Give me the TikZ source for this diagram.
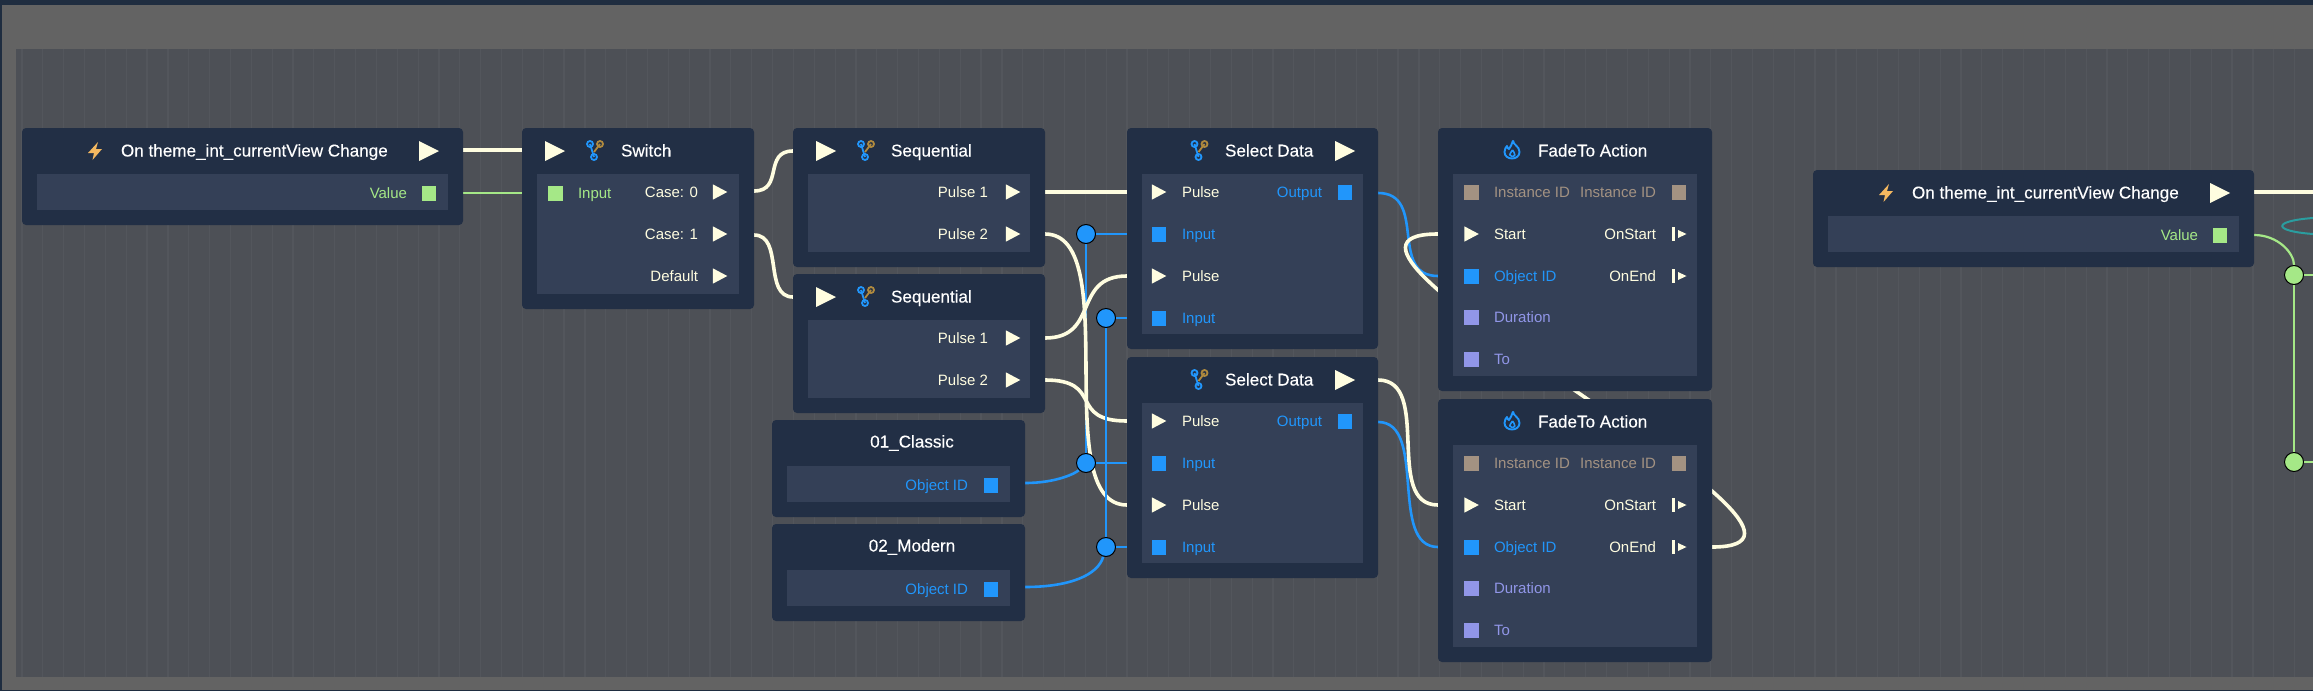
\documentclass[tikz,border=0pt]{standalone}
\usepackage{fontspec}
\setmainfont{Liberation Sans}
\newfontfamily\titlefont[FakeBold=0.25]{Liberation Sans}
\usetikzlibrary{backgrounds}

\pgfdeclarelayer{wires}
\pgfsetlayers{background,wires,main}

\definecolor{bandblue}{HTML}{1F2D40}
\definecolor{panelgray}{HTML}{636363}
\definecolor{canvasgray}{HTML}{4D5056}
\definecolor{gridgray}{HTML}{53565C}
\definecolor{nodedark}{HTML}{222F45}
\definecolor{bodyblue}{HTML}{344057}
\definecolor{flowcream}{HTML}{FFFDE0}
\definecolor{idblue}{HTML}{2196FB}
\definecolor{valgreen}{HTML}{A5E887}
\definecolor{numviolet}{HTML}{9196E8}
\definecolor{insttan}{HTML}{A39282}
\definecolor{eventorange}{HTML}{F4B860}
\definecolor{forktan}{HTML}{B08A3E}
\definecolor{loopteal}{HTML}{2A9D9F}

\tikzset{
	nodeframe/.style={fill=nodedark, rounded corners=4pt, anchor=north west, inner sep=0pt, outer sep=0pt},
	nodebody/.style={fill=bodyblue, anchor=north west, inner sep=0pt, outer sep=0pt},
	rowlabel/.style={inner sep=0pt, outer sep=0pt, text height=11pt, text depth=0pt, font=\fontsize{15}{18}\selectfont},
	titlelabel/.style={rowlabel, text=white, font=\titlefont\fontsize{17.1}{18}\selectfont},
	flowwire/.style={draw=flowcream, line width=3.6pt},
	idwire/.style={draw=idblue, line width=2.6pt},
	valwire/.style={draw=valgreen, line width=2.2pt},
	idknot/.style={circle, fill=idblue, draw=black, line width=1pt, minimum size=19pt, inner sep=0pt},
	valknot/.style={idknot, fill=valgreen},
	forkicon/.pic={
		\draw[idblue, line width=1.8pt] (-5,-6) -- (-1,7);
		\draw[forktan, line width=1.8pt] (5,-6) -- (-1,2);
		\draw[idblue, line width=1.8pt] (-5,-6) circle (3);
		\draw[forktan, line width=1.8pt] (5,-6) circle (3);
		\draw[idblue, line width=1.8pt] (-1,7) circle (3);
	},
	flameicon/.pic={
		\draw[idblue, line width=1.9pt, line join=round] (1,-9.5) .. controls (1,-5) and (7.5,-4) .. (7.5,2)
		.. controls (7.5,6) and (4,8.5) .. (0,8.5) .. controls (-4,8.5) and (-7.5,6) .. (-7.5,2)
		.. controls (-7.5,-1) and (-6,-3) .. (-5,-4) .. controls (-4.5,-2) and (-4,-1) .. (-3,-1)
		.. controls (-1.5,-3) and (0,-6) .. (1,-9.5);
		\draw[idblue, line width=1.6pt] (0.5,0) .. controls (1,2) and (3.2,2.5) .. (2.8,5) .. controls (2.5,6) and (1,6.5) .. (0,6.5) .. controls (-2.5,6.5) and (-3,3) .. (-1.5,3) -- (0.5,0);
	},
	eventicon/.pic={
		\fill[eventorange] (3,-9) -- (-7,2) -- (-1,2) -- (-2.5,9) -- (7,-2) -- (1,-2) -- cycle;
	},
}

% small pieces of a row
\newcommand{\PlayPin}[2]{\fill[flowcream] (#1,#2) ++(-7.2,-7.7) -- ++(14.5,7.7) -- ++(-14.5,7.7) -- cycle;}
\newcommand{\PlayBig}[2]{\fill[flowcream] (#1,#2) ++(-10,-10) -- ++(20,10) -- ++(-20,10) -- cycle;}
\newcommand{\SquarePin}[3]{\fill[#3] (#1,#2) ++(-7.3,-7.5) rectangle ++(14.6,15);}
\newcommand{\EndPin}[2]{
	\fill[flowcream] (#1,#2) ++(-7,-7) rectangle ++(2.5,14);
	\fill[flowcream] (#1,#2) ++(-1,-4) -- ++(8.5,4) -- ++(-8.5,4) -- cycle;
}
% name, x, y, width, height
\newcommand{\NodeBox}[5]{
	\node[nodeframe, minimum width=#4pt, minimum height=#5pt] (#1) at (0,0) {};
	\node[nodebody, minimum width=#4pt-30pt, minimum height=#5pt-61pt] (#1-body) at (15,46) {};
}

% name, x, y
\newcommand{\EventNode}[3]{
	\begin{scope}[shift={(#2,#3)}]
		\NodeBox{#1}{#2}{#3}{441}{97}
		\pic at (73,23) {eventicon};
		\node[titlelabel, anchor=west] (#1-title) at (99,23) {On theme\_int\_currentView Change};
		\PlayBig{407}{23}
		\node[rowlabel, anchor=east, text=valgreen] (#1-value) at (385,65) {Value};
		\SquarePin{407}{65}{valgreen}
		\coordinate (#1-flow) at (441,22);
		\coordinate (#1-out) at (441,65);
	\end{scope}
}
\newcommand{\SequentialNode}[3]{
	\begin{scope}[shift={(#2,#3)}]
		\NodeBox{#1}{#2}{#3}{252}{139}
		\PlayBig{33}{23}
		\pic at (73,22) {forkicon};
		\node[titlelabel, anchor=west] (#1-title) at (98,23) {Sequential};
		\node[rowlabel, anchor=east, text=flowcream] (#1-pulsea) at (195,64) {Pulse 1};
		\PlayPin{220}{64}
		\node[rowlabel, anchor=east, text=flowcream] (#1-pulseb) at (195,106) {Pulse 2};
		\PlayPin{220}{106}
		\coordinate (#1-in) at (0,23);
		\coordinate (#1-outa) at (252,64);
		\coordinate (#1-outb) at (252,106);
	\end{scope}
}
\newcommand{\SelectNode}[3]{
	\begin{scope}[shift={(#2,#3)}]
		\NodeBox{#1}{#2}{#3}{251}{221}
		\pic at (72.5,22) {forkicon};
		\node[titlelabel, anchor=west] (#1-title) at (98,23) {Select Data};
		\PlayBig{218}{23}
		\PlayPin{32}{64}
		\node[rowlabel, anchor=west, text=flowcream] (#1-pulsea) at (55,64) {Pulse};
		\node[rowlabel, anchor=east, text=idblue] (#1-output) at (195,64) {Output};
		\SquarePin{218}{64}{idblue}
		\SquarePin{32}{106}{idblue}
		\node[rowlabel, anchor=west, text=idblue] (#1-inputa) at (55,106) {Input};
		\PlayPin{32}{148}
		\node[rowlabel, anchor=west, text=flowcream] (#1-pulseb) at (55,148) {Pulse};
		\SquarePin{32}{190}{idblue}
		\node[rowlabel, anchor=west, text=idblue] (#1-inputb) at (55,190) {Input};
		\coordinate (#1-ina) at (0,64);
		\coordinate (#1-idb) at (0,106);
		\coordinate (#1-inb) at (0,148);
		\coordinate (#1-idc) at (0,190);
		\coordinate (#1-flow) at (251,23);
		\coordinate (#1-out) at (251,65);
	\end{scope}
}
\newcommand{\FadeNode}[3]{
	\begin{scope}[shift={(#2,#3)}]
		\NodeBox{#1}{#2}{#3}{274}{263}
		\pic at (74,22) {flameicon};
		\node[titlelabel, anchor=west] (#1-title) at (100,23) {FadeTo Action};
		\SquarePin{33.5}{64}{insttan}
		\node[rowlabel, anchor=west, text=insttan] (#1-instin) at (56,64) {Instance ID};
		\node[rowlabel, anchor=east, text=insttan] (#1-instout) at (218,64) {Instance ID};
		\SquarePin{241}{64}{insttan}
		\PlayPin{33.5}{106}
		\node[rowlabel, anchor=west, text=flowcream] (#1-start) at (56,106) {Start};
		\node[rowlabel, anchor=east, text=flowcream] (#1-onstart) at (218,106) {OnStart};
		\EndPin{241}{106}
		\SquarePin{33.5}{148}{idblue}
		\node[rowlabel, anchor=west, text=idblue] (#1-objid) at (56,148) {Object ID};
		\node[rowlabel, anchor=east, text=flowcream] (#1-onend) at (218,148) {OnEnd};
		\EndPin{241}{148}
		\SquarePin{33.5}{189}{numviolet}
		\node[rowlabel, anchor=west, text=numviolet] (#1-duration) at (56,189) {Duration};
		\SquarePin{33.5}{231}{numviolet}
		\node[rowlabel, anchor=west, text=numviolet] (#1-to) at (56,231) {To};
		\coordinate (#1-in) at (0,106);
		\coordinate (#1-id) at (0,148);
		\coordinate (#1-end) at (274,148);
	\end{scope}
}
% name, x, y, text
\newcommand{\ObjectNode}[4]{
	\begin{scope}[shift={(#2,#3)}]
		\NodeBox{#1}{#2}{#3}{253}{97}
		\node[titlelabel] (#1-title) at (140,22) {#4};
		\node[rowlabel, anchor=east, text=idblue] (#1-label) at (196,65) {Object ID};
		\SquarePin{219}{65}{idblue}
		\coordinate (#1-out) at (253,63);
	\end{scope}
}

\begin{document}
\begin{tikzpicture}[x=1pt, y=-1pt]
	\useasboundingbox (0,0) rectangle (2313,691);
	
	% 1. Window, panel and canvas with its grid
	\begin{scope}[on background layer]
		\fill[bandblue] (0,0) rectangle (2313,691);
		\fill[panelgray] (2,5) rectangle (2313,690);
		\fill[canvasgray] (16,49) rectangle (2313,677);
		\begin{scope}[shift={(1.1,4.15)}]
			\draw[gridgray, line width=1.2pt, step=20.85] (15,44.9) grid (2312,672.8);
		\end{scope}
	\end{scope}
	
	% 2. The nodes
	\EventNode{eventA}{22}{128}
	\begin{scope}[shift={(522,128)}]
		\NodeBox{switch}{522}{128}{232}{181}
		\PlayBig{33}{23}
		\pic at (73,22) {forkicon};
		\node[titlelabel, anchor=west] (switch-title) at (99,23) {Switch};
		\SquarePin{33.5}{65}{valgreen}
		\node[rowlabel, anchor=west, text=valgreen] (switch-input) at (56,65) {Input};
		\node[rowlabel, anchor=east, text=flowcream] (switch-casea) at (176,64) {Case: 0};
		\PlayPin{198}{64}
		\node[rowlabel, anchor=east, text=flowcream] (switch-caseb) at (176,106) {Case: 1};
		\PlayPin{198}{106}
		\node[rowlabel, anchor=east, text=flowcream] (switch-default) at (176,148) {Default};
		\PlayPin{198}{148}
		\coordinate (switch-flow) at (0,22);
		\coordinate (switch-in) at (0,65);
		\coordinate (switch-outa) at (232,63);
		\coordinate (switch-outb) at (232,107);
	\end{scope}
	\SequentialNode{seqA}{793}{128}
	\SequentialNode{seqB}{793}{274}
	\SelectNode{selA}{1127}{128}
	\SelectNode{selB}{1127}{357}
	\ObjectNode{classic}{772}{420}{01\_Classic}
	\ObjectNode{modern}{772}{524}{02\_Modern}
	\FadeNode{fadeA}{1438}{128}
	\FadeNode{fadeB}{1438}{399}
	\EventNode{eventB}{1813}{170}
	
	% 3. Knots on the wires
	\node[idknot] (knotA) at (1086,234) {};
	\node[idknot] (knotB) at (1106,318) {};
	\node[idknot] (knotC) at (1086,463) {};
	\node[idknot] (knotD) at (1106,547) {};
	\node[valknot] (knotE) at (2294,275) {};
	\node[valknot] (knotF) at (2294,462) {};
	
	% free ends at the right border
	\coordinate (edgeA) at (2313,192);
	\coordinate (edgeB) at (2313,275);
	\coordinate (edgeC) at (2313,462);
	\coordinate (edgeD) at (2313,218);
	\coordinate (edgeE) at (2313,234);
	
	% 4. The wires, under the nodes
	\begin{pgfonlayer}{wires}
		% blue under the cream ones
		\draw[idwire] (knotA) -- (knotC);
		\draw[idwire] (knotA) -- (selA-idb);
		\draw[idwire] (knotC) -- (selB-idb);
		\draw[idwire] (classic-out) .. controls +(32,0) and +(-10,10) .. (knotC);
		\draw[idwire] (selA-out) .. controls +(50,0) and +(-50,0) .. (fadeA-id);
		\draw[idwire] (selB-out) .. controls +(50,0) and +(-50,0) .. (fadeB-id);
		
		% cream ones
		\draw[flowwire] (eventA-flow) -- (switch-flow);
		\draw[flowwire] (switch-outa) .. controls +(30,0) and +(-30,0) .. (seqA-in);
		\draw[flowwire] (switch-outb) .. controls +(30,0) and +(-30,0) .. (seqB-in);
		\draw[flowwire] (seqA-outa) -- (selA-ina);
		\draw[flowwire] (seqA-outb) .. controls +(80,0) and +(-80,0) .. (selB-inb);
		\draw[flowwire] (seqB-outa) .. controls +(55,0) and +(-55,0) .. (selA-inb);
		\draw[flowwire] (seqB-outb) .. controls +(60,0) and +(-60,0) .. (selB-ina);
		\draw[flowwire] (selB-flow) .. controls +(55,0) and +(-55,0) .. (fadeB-in);
		\draw[flowwire] (fadeB-end) .. controls +(180,0) and +(-180,0) .. (fadeA-in);
		\draw[flowwire] (eventB-flow) -- (edgeA);
		
		% this blue one runs over the cream ones
		\draw[idwire, line width=2.2pt] (knotB) -- (knotD);
		\draw[idwire, line width=2.2pt] (knotB) -- (selA-idc);
		\draw[idwire, line width=2.2pt] (knotD) -- (selB-idc);
		\draw[idwire] (modern-out) .. controls +(45,0) and +(-8,28) .. (knotD);
		
		% green ones
		\draw[valwire] (eventA-out) -- (switch-in);
		\draw[valwire] (eventB-out) .. controls +(24,0) and +(0,-22) .. (knotE);
		\draw[valwire] (knotE) -- (knotF);
		\draw[valwire] (knotE) -- (edgeB);
		\draw[valwire] (knotF) -- (edgeC);
		\draw[loopteal, line width=2pt] (edgeD) .. controls (2272,221) and (2272,231) .. (edgeE);
	\end{pgfonlayer}
	
\end{tikzpicture}
\end{document}
